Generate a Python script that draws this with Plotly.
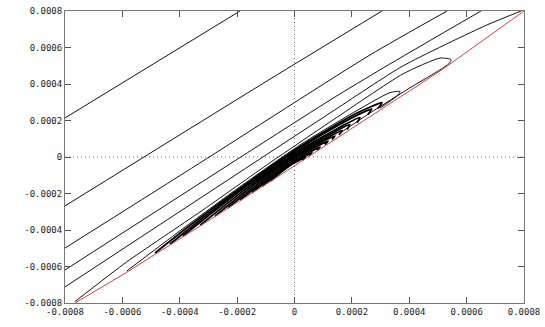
import plotly.graph_objects as go

# all coordinates below are in units of 1e-4
SCALE = 1e-4

tick_vals = [-8, -6, -4, -2, 0, 2, 4, 6, 8]
tick_text = ["-0.0008", "-0.0006", "-0.0004", "-0.0002", "0", "0.0002", "0.0004", "0.0006", "0.0008"]

# red boundary line
red_x = [-7.65, -5.85, -0.85, 0.31, 5.13, 8.0]
red_y = [-8.0, -6.32, -1.35, -0.16, 4.77, 8.0]

# open contour lines (outer levels, nearly straight)
c1_x = [-8.0, -1.9]
c1_y = [2.14, 8.0]
c2_x = [-8.0, -0.85, 3.05]
c2_y = [-2.68, 4.27, 8.0]
c3_x = [-8.0, -3.3, 2.63, 5.32]
c3_y = [-4.99, -0.33, 5.59, 8.0]
c4_x = [-8.0, 1.24, 3.09, 6.5]
c4_y = [-6.19, 3.12, 4.88, 8.0]
c5_x = [-8.0, 1.24, 3.78, 6.70, 7.9]
c5_y = [-7.12, 2.41, 4.99, 7.23, 8.0]

# contours truncated by the boundary (outer to inner)
a_x = [-7.65, -5.85, -3.29, -0.85, 1.24, 3.78, 5.07, 5.46, 5.39, 5.07, 4.13, 2.63, 1.59]
a_y = [-7.92, -5.75, -3.01, -0.31, 1.92, 4.55, 5.42, 5.34, 5.12, 4.77, 3.89, 2.41, 1.31]
b_x = [-5.85, -3.99, -1.90, 0.19, 1.93, 3.33, 3.68, 3.57, 2.98]
b_y = [-6.25, -4.04, -1.63, 0.66, 2.32, 3.53, 3.59, 3.34, 2.68]
g_x = [-4.86, -3.64, -1.90, 0.19, 1.93, 2.70, 3.05, 2.91]
g_y = [-5.26, -3.74, -1.71, 0.57, 2.21, 2.78, 2.99, 2.66]
d_x = [-4.34, -3.29, -1.90, 0.19, 1.59, 2.35, 2.69, 2.56]
d_y = [-4.77, -3.45, -1.79, 0.49, 1.80, 2.42, 2.63, 2.33]
e_x = [-3.89, -1.83, 0.23, 2.28, 2.18]
e_y = [-4.33, -1.78, 0.44, 2.16, 1.88]
z_x = [-3.29, -1.55, 0.19, 1.93, 1.83]
z_y = [-3.74, -1.57, 0.32, 1.78, 1.51]
h_x = [-2.77, -1.31, 0.19, 1.66, 1.55]
h_y = [-3.23, -1.39, 0.24, 1.45, 1.21]
t_x = [-2.32, -1.06, 0.19, 1.41, 1.31]
t_y = [-2.78, -1.21, 0.16, 1.16, 0.95]
i_x = [-1.90, -0.89, 0.16, 1.17, 1.06]
i_y = [-2.37, -1.11, 0.04, 0.88, 0.68]
k_x = [-1.48, -0.68, 0.09, 0.89, 0.78]
k_y = [-1.95, -0.95, -0.12, 0.55, 0.38]
l_x = [-1.13, -0.54, 0.02, 0.61, 0.51]
l_y = [-1.61, -0.88, -0.27, 0.24, 0.08]
m_x = [-0.85, -0.44, -0.05, 0.37, 0.26]
m_y = [-1.33, -0.79, -0.36, -0.02, -0.18]

outer = [(c1_x, c1_y), (c2_x, c2_y), (c3_x, c3_y), (c4_x, c4_y), (c5_x, c5_y),
         (a_x, a_y), (b_x, b_y)]
inner = [(g_x, g_y), (d_x, d_y), (e_x, e_y), (z_x, z_y), (h_x, h_y),
         (t_x, t_y), (i_x, i_y), (k_x, k_y), (l_x, l_y), (m_x, m_y)]


def sc(v):
  return [x * SCALE for x in v]


fig = go.Figure()

for cx, cy in outer:
  fig.add_trace(
    go.Scatter(
      x=sc(cx), y=sc(cy), mode="lines",
      line=dict(color="#111111", width=1, shape="spline", smoothing=0.6),
      showlegend=False, hoverinfo="skip",
    )
  )

# the central contours are packed so tightly they read as a dark smear
for cx, cy in inner:
  fig.add_trace(
    go.Scatter(
      x=sc(cx), y=sc(cy), mode="lines",
      line=dict(color="#000000", width=1.8, shape="spline", smoothing=0.6),
      showlegend=False, hoverinfo="skip",
    )
  )

fig.add_trace(
  go.Scatter(
    x=sc(red_x), y=sc(red_y), mode="lines",
    line=dict(color="#e03c3c", width=1),
    showlegend=False, hoverinfo="skip",
  )
)

lim = 8 * SCALE
# dotted zero axes
fig.add_shape(type="line", x0=-lim, x1=lim, y0=0, y1=0, layer="below",
              line=dict(color="#666666", width=1, dash="1px,3px"))
fig.add_shape(type="line", x0=0, x1=0, y0=-lim, y1=lim, layer="below",
              line=dict(color="#666666", width=1, dash="1px,3px"))

axis_style = dict(
  range=[-lim, lim],
  tickvals=sc(tick_vals),
  ticktext=tick_text,
  ticks="inside",
  ticklen=6,
  tickcolor="#555555",
  showline=True,
  linecolor="#777777",
  linewidth=1,
  mirror="ticks",
  showgrid=False,
  zeroline=False,
  automargin=False,
  tickfont=dict(family="DejaVu Sans Mono", size=9, color="#222222"),
)

fig.update_layout(
  width=545,
  height=327,
  autosize=False,
  margin=dict(l=65, r=21, t=11, b=24),
  paper_bgcolor="white",
  plot_bgcolor="white",
  xaxis=axis_style,
  yaxis=axis_style,
)

# drop the default page margin so the figure sits at the window's corner
fig.write_html(
  "out.html",
  config={"displayModeBar": False},
  post_script="document.body.style.margin='0';",
)
